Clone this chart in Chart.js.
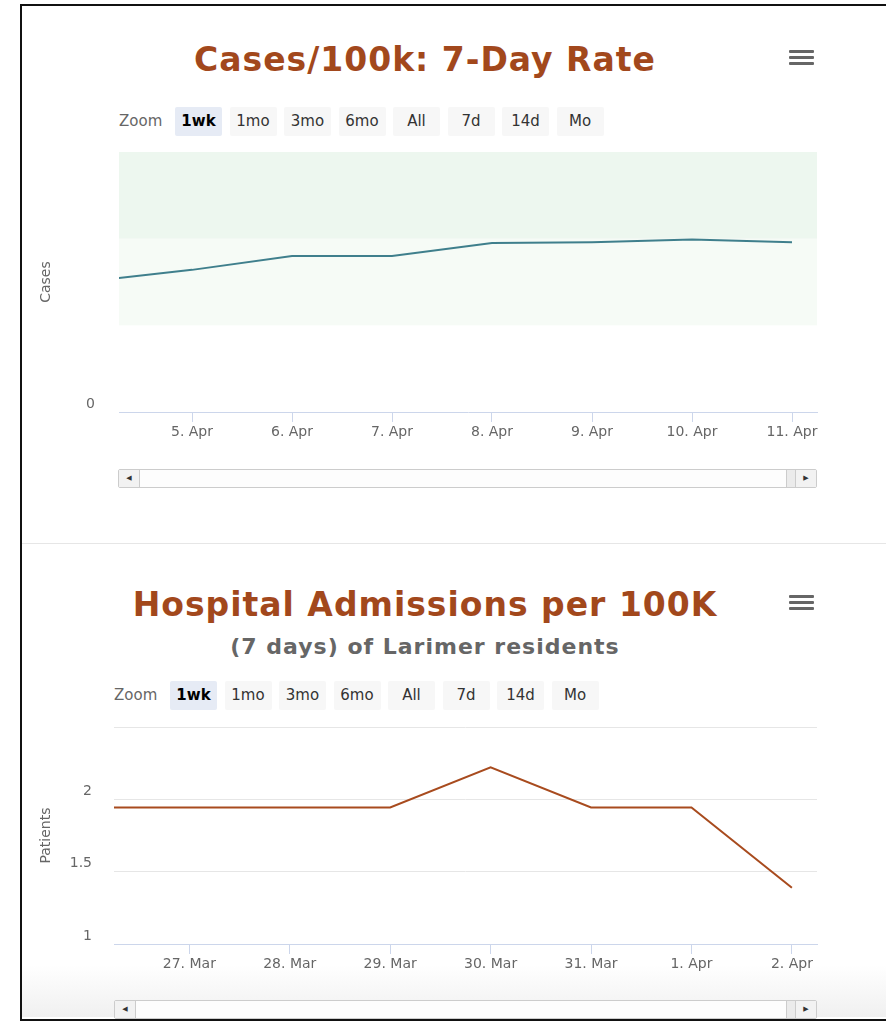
<!DOCTYPE html>
<html>
<head>
<meta charset="utf-8">
<script src="https://cdn.jsdelivr.net/npm/chart.js@4.4.1/dist/chart.umd.min.js"></script>
<style>
    html, body { margin: 0; padding: 0; background: #fff; }
    body { width: 886px; height: 1021px; position: relative; overflow: hidden; font-family: 'DejaVu Sans', sans-serif; }
    .frame { position: absolute; left: 20px; top: 4px; width: 880px; height: 1013px; border: 2px solid #111; border-right: none; }
    .fade { position: absolute; left: 22px; right: 0; top: 965px; height: 52px; background: linear-gradient(#fff, #f0f0f0); }
    .sep { position: absolute; left: 22px; right: 0; top: 543px; height: 1px; background: #e6e6e6; }
    .title { position: absolute; left: 22px; width: 806px; text-align: center; font-family: 'DejaVu Sans', sans-serif; font-weight: bold; color: #a2481c; white-space: nowrap; letter-spacing: 1px; }
    .subtitle { position: absolute; left: 22px; width: 806px; text-align: center; font-family: 'DejaVu Sans', sans-serif; font-weight: bold; color: #666; white-space: nowrap; letter-spacing: 1px; }
    .menu { position: absolute; width: 25px; }
    .menu div { height: 3px; background: #666; border-radius: 1px; margin-bottom: 3px; }
    .zoom { position: absolute; height: 29px; font-size: 15px; color: #333; }
    .zoom span.lbl { position: absolute; left: 0; top: 5px; color: #666; }
    .zoom .btn { position: absolute; top: 0; width: 47px; height: 29px; line-height: 29px; text-align: center; background: #f7f7f7; border-radius: 2px; }
    .zoom .btn.on { background: #e6ebf5; font-weight: bold; color: #000; }
    .sb { position: absolute; height: 17px; border: 1px solid #cccccc; border-radius: 2px; background: #fdfdfd; box-sizing: content-box; }
    .sb .arr { position: absolute; top: 0; width: 20px; height: 17px; background: #f2f2f2; font-size: 7px; line-height: 17px; text-align: center; color: #333; }
    .sb .l { left: 0; border-right: 1px solid #ccc; }
    .sb .r { right: 0; border-left: 1px solid #ccc; }
    .sb .thumb { position: absolute; top: 0; right: 21px; width: 8px; height: 17px; background: #ebebeb; border-left: 1px solid #ccc; }
    canvas { position: absolute; left: 0; }
</style>
</head>
<body>
<div class="frame"></div>
<div class="fade"></div>
<div class="sep"></div>

<div class="title" style="top:40px;font-size:33px;">Cases/100k: 7-Day Rate</div>
<div class="menu" style="left:789px;top:50px;"><div></div><div></div><div></div></div>
<div class="zoom" id="zoomTop" style="left:119px;top:107px;"></div>
<canvas id="casesChart" style="top:140px;" width="886" height="320"></canvas>
<div class="sb" style="left:118px;top:469px;width:697px;"><div class="arr l">&#9664;</div><div class="thumb"></div><div class="arr r">&#9654;</div></div>

<div class="title" style="top:585px;font-size:33px;">Hospital Admissions per 100K</div>
<div class="subtitle" style="top:634px;font-size:22px;">(7 days) of Larimer residents</div>
<div class="menu" style="left:789px;top:595px;"><div></div><div></div><div></div></div>
<div class="zoom" id="zoomBottom" style="left:114px;top:681px;"></div>
<canvas id="patientsChart" style="top:715px;" width="886" height="285"></canvas>
<div class="sb" style="left:114px;top:1000px;width:701px;"><div class="arr l">&#9664;</div><div class="thumb"></div><div class="arr r">&#9654;</div></div>

<script>
// ---- データ ----
const zoomButtons = ['1wk', '1mo', '3mo', '6mo', 'All', '7d', '14d', 'Mo'];

// 上段: 7日間の10万人あたり症例率
const caseDays = ['4. Apr', '5. Apr', '6. Apr', '7. Apr', '8. Apr', '9. Apr', '10. Apr', '11. Apr'];
const caseRates = [151, 164, 180, 180, 195, 196, 199, 196];
const caseBands = [[100, 200], [200, 300]];

// 下段: 10万人あたりの入院数
const admitDays = ['26. Mar', '27. Mar', '28. Mar', '29. Mar', '30. Mar', '31. Mar', '1. Apr', '2. Apr'];
const admitRates = [1.944, 1.944, 1.944, 1.944, 2.222, 1.944, 1.944, 1.389];

/**
 * ズームボタン列を描画する
 */
function drawZoomRow(id) {
    const row = document.getElementById(id);
    const lbl = document.createElement('span');
    lbl.className = 'lbl';
    lbl.textContent = 'Zoom';
    row.appendChild(lbl);
    zoomButtons.forEach((text, i) => {
        const b = document.createElement('div');
        b.className = 'btn' + (i === 0 ? ' on' : '');
        b.style.left = 56 + i * 54.5 + 'px';
        b.textContent = text;
        row.appendChild(b);
    });
}
drawZoomRow('zoomTop');
drawZoomRow('zoomBottom');

const axisFont = { family: 'DejaVu Sans', size: 14 };
const axisColor = '#666666';
const lineAxisColor = '#ccd6eb';

// プロットバンド描画プラグイン
const bandPlugin = {
    id: 'bands',
    beforeDatasetsDraw(chart, args, opts) {
        if (!opts.ranges) return;
        const { ctx, chartArea, scales } = chart;
        ctx.save();
        opts.ranges.forEach((r, i) => {
            const y1 = scales.y.getPixelForValue(r[1]);
            const y0 = scales.y.getPixelForValue(r[0]);
            ctx.fillStyle = opts.colors[i];
            ctx.fillRect(chartArea.left, y1, chartArea.right - chartArea.left, y0 - y1);
        });
        ctx.restore();
    },
};

/**
 * 折れ線グラフを作成する
 */
function drawLineChart(canvasId, days, values, cfg) {
    const points = values.map((v, i) => ({ x: i, y: v }));
    return new Chart(document.getElementById(canvasId), {
        type: 'line',
        data: {
            datasets: [{
                data: points,
                borderColor: cfg.color,
                borderWidth: 2,
                pointRadius: 0,
                tension: 0,
            }],
        },
        options: {
            responsive: false,
            animation: false,
            layout: { padding: { top: 12, right: 69, left: 0, bottom: 0 } },
            plugins: {
                legend: { display: false },
                tooltip: { enabled: false },
                bands: { ranges: cfg.bands, colors: cfg.bandColors },
            },
            scales: {
                x: {
                    type: 'linear',
                    min: cfg.xMin,
                    max: cfg.xMax,
                    afterBuildTicks: (scale) => {
                        scale.ticks = days.map((d, i) => ({ value: i })).filter((t) => t.value >= cfg.xMin && t.value <= cfg.xMax);
                    },
                    afterFit: (scale) => {
                        scale.height = cfg.xHeight;
                        scale.paddingLeft = 0;
                        scale.paddingRight = 0;
                    },
                    ticks: {
                        callback: (v) => days[v],
                        font: axisFont,
                        color: axisColor,
                        padding: 2,
                        maxRotation: 0,
                        autoSkip: false,
                    },
                    grid: { drawOnChartArea: false, drawTicks: true, tickLength: 10, color: lineAxisColor },
                    border: { color: lineAxisColor, width: 1 },
                },
                y: {
                    min: cfg.yMin,
                    max: cfg.yMax,
                    afterBuildTicks: (scale) => {
                        scale.ticks = cfg.yTicks.map((v) => ({ value: v }));
                    },
                    afterFit: (scale) => {
                        scale.width = cfg.yWidth;
                        scale.paddingTop = 0;
                        scale.paddingBottom = 0;
                    },
                    title: {
                        display: true,
                        text: cfg.yTitle,
                        font: { family: 'DejaVu Sans', size: 14 },
                        color: axisColor,
                        padding: { top: 38, bottom: 0 },
                    },
                    ticks: {
                        callback: (v) => (cfg.yLabels.includes(v) ? String(v) : ''),
                        font: axisFont,
                        color: axisColor,
                        padding: cfg.yPad,
                        labelOffset: -8,
                    },
                    grid: {
                        drawTicks: false,
                        color: (c) => cfg.gridColor(c.tick ? c.tick.value : null),
                    },
                    border: { display: false },
                },
            },
        },
        plugins: [bandPlugin],
    });
}

drawLineChart('casesChart', caseDays, caseRates, {
    color: '#3f7f8c',
    xMin: 0.27, xMax: 7.25, xHeight: 48,
    yMin: 0, yMax: 300, yTicks: [0, 300], yLabels: [0], yWidth: 119, yPad: 24,
    yTitle: 'Cases',
    bands: caseBands,
    bandColors: ['#f6fbf6', '#edf7ef'],
    gridColor: (v) => (v === 300 ? '#e6e6e6' : 'rgba(0,0,0,0)'),
});

drawLineChart('patientsChart', admitDays, admitRates, {
    color: '#a84b1e',
    xMin: 0.25, xMax: 7.25, xHeight: 56,
    yMin: 1, yMax: 2.5, yTicks: [1, 1.5, 2, 2.5], yLabels: [1, 1.5, 2], yWidth: 114, yPad: 22,
    yTitle: 'Patients',
    gridColor: (v) => (v === 1 ? 'rgba(0,0,0,0)' : '#e6e6e6'),
});
</script>
</body>
</html>
